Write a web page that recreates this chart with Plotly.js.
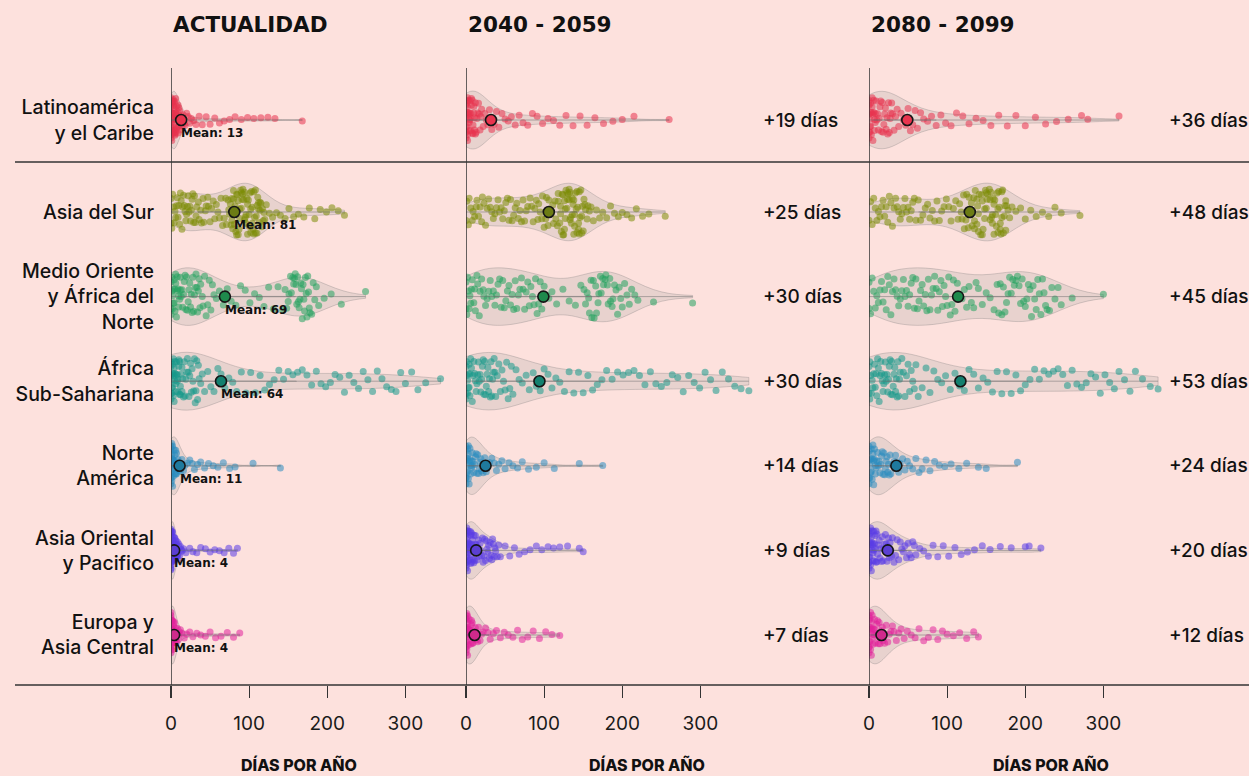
<!DOCTYPE html>
<html><head><meta charset="utf-8">
<script src="https://cdn.plot.ly/plotly-3.0.1.min.js"></script>
<style>html,body{margin:0;padding:0;background:#fde1dd;} #chart{width:1249px;height:776px;}</style>
</head><body><div id="chart"></div>
<script>
// ---------- labels ----------
const regions = ["Latinoamérica<br>y el Caribe","Asia del Sur","Medio Oriente<br>y África del<br>Norte","África<br>Sub-Sahariana","Norte<br>América","Asia Oriental<br>y Pacifico","Europa y<br>Asia Central"];
const periods = ["ACTUALIDAD","2040 - 2059","2080 - 2099"];
const xTicks = [0,100,200,300];
const xTitle = "DÍAS POR AÑO";
// ---------- means and changes (days per year) ----------
const meanNow  = [13,81,69,64,11,4,4];
const mean2050 = [32,106,99,94,25,13,11];
const mean2090 = [49,129,114,117,35,24,16];
const delta2050 = [19,25,30,30,14,9,7];
const delta2090 = [36,48,45,53,24,20,12];
// ---------- country values, ACTUALIDAD ----------
const latinoActual = [0,0,0,0,0,0,0,0,0,0,0,0,0,0,0,1,1,1,1,1,1,1,2,2,2,2,2,2,3,3,3,3,3,4,4,4,4,4,5,5,5,5,6,6,6,6,7,7,7,8,8,8,9,9,10,10,11,11,12,12,13,14,15,17,18,20,22,24,26,29,32,36,40,45,50,56,62,68,75,82,90,98,106,115,124,133,168];
const asiaSurActual = [0,0,1,2,3,4,5,6,7,8,9,10,11,12,13,14,15,16,17,18,19,20,21,22,23,24,25,26,27,28,29,30,31,32,33,35,36,38,39,41,42,44,45,47,48,50,52,54,56,58,60,62,64,66,68,70,71,73,74,75,76,77,78,78,79,80,80,81,82,82,83,84,84,85,86,86,87,88,88,89,90,90,91,92,92,93,94,94,95,96,96,97,98,98,99,100,100,101,102,102,103,104,104,105,106,106,107,108,108,109,110,110,111,112,112,113,114,114,115,116,117,118,119,120,122,126,130,135,140,146,151,157,163,170,177,184,191,199,206,214,222];
const menaActual = [0,0,0,1,1,2,2,3,3,4,4,5,5,6,6,7,8,8,9,10,10,11,12,12,13,14,15,16,17,18,19,20,21,22,23,24,25,26,27,28,29,30,31,32,33,34,35,36,37,38,40,41,43,45,47,49,51,53,55,58,62,67,72,77,83,89,95,101,107,113,119,125,131,137,143,146,148,150,151,153,154,156,157,158,159,160,161,162,163,164,165,166,167,168,169,170,171,172,173,174,175,176,177,178,180,182,184,186,189,196,205,218,249];
const ssaActual = [0,0,0,0,0,1,1,1,2,2,2,3,3,3,4,4,4,5,5,5,6,6,7,7,8,8,9,9,10,10,11,11,12,12,13,14,14,15,16,17,18,19,20,21,22,23,24,25,26,27,28,29,30,31,32,33,34,35,36,38,40,43,47,51,55,60,64,69,74,79,84,90,96,102,108,114,120,126,132,138,144,150,156,162,168,174,180,186,192,198,204,210,216,222,228,234,240,246,252,258,264,270,276,282,288,294,300,308,316,326,345];
const naActual = [0,0,0,0,0,0,0,0,0,0,1,1,1,1,1,2,2,2,2,3,3,3,3,4,4,4,5,5,5,6,6,7,7,8,8,9,10,11,12,14,16,18,21,24,27,30,34,38,43,48,54,60,67,75,82,105,140];
const eapActual = [0,0,0,0,0,0,0,0,0,0,0,0,0,0,0,0,0,0,1,1,1,1,1,1,1,1,2,2,2,2,2,2,3,3,3,3,3,4,4,4,4,5,5,5,5,6,6,6,7,7,7,8,8,9,9,10,11,12,13,14,16,19,24,28,33,38,44,50,56,62,68,74,80,85];
const ecaActual = [0,0,0,0,0,0,0,0,0,0,0,0,0,0,1,1,1,1,1,1,2,2,2,2,2,3,3,3,3,4,4,4,5,5,5,6,6,7,7,8,9,10,11,12,14,17,20,24,28,33,38,44,50,57,64,72,80,88];
// ---------- 2040-2059 ----------
const latino2050 = [0,0,0,0,0,0,0,0,1,1,1,1,2,2,2,2,3,3,3,4,4,4,5,5,5,6,6,6,7,7,8,8,9,9,10,10,11,11,12,12,13,14,15,16,17,18,19,20,22,24,26,28,30,33,36,39,42,46,50,54,58,63,68,73,79,85,91,98,105,112,120,128,137,146,155,165,176,188,200,215,260];
const asiaSur2050 = [0,1,3,4,6,8,9,11,13,14,16,18,20,21,23,25,27,29,31,33,35,37,39,41,43,45,47,49,51,53,55,57,59,61,63,65,67,69,71,73,75,77,79,82,84,86,88,90,92,93,95,97,98,100,102,103,105,106,108,109,111,112,114,115,117,118,120,121,122,123,124,125,126,127,128,129,130,131,132,133,134,135,136,137,138,139,140,141,142,143,144,145,146,147,148,149,150,152,153,155,156,158,160,118,121,124,127,130,133,136,139,142,145,148,151,126,132,138,144,163,167,171,175,180,185,190,195,200,206,212,218,226,234,255];
const mena2050 = [0,0,1,2,3,4,5,6,7,8,10,11,12,14,15,17,18,20,22,23,25,27,29,31,33,35,37,39,41,43,45,47,49,51,53,55,57,59,61,63,65,67,69,71,73,75,77,79,81,83,85,87,89,91,93,95,97,100,103,106,110,116,124,132,140,147,151,153,155,157,158,160,161,163,164,166,167,169,170,172,173,175,176,178,179,181,182,184,185,187,188,190,192,194,196,198,200,203,206,209,212,216,220,240,290];
const ssa2050 = [0,0,0,1,1,2,2,3,3,4,4,5,5,6,7,8,9,10,11,12,13,14,15,16,17,18,19,20,21,22,23,24,25,26,27,28,29,30,31,32,33,34,35,36,37,38,40,42,44,46,48,50,52,54,56,58,60,64,68,72,77,81,86,90,95,100,105,110,115,120,126,132,138,144,150,156,162,168,174,180,187,194,201,208,215,222,229,236,243,250,257,264,271,278,285,292,299,306,313,320,328,336,344,352,362];
const na2050 = [0,0,0,0,0,0,1,1,1,2,2,2,3,3,3,4,4,5,5,6,6,7,7,8,8,9,10,11,12,13,14,15,16,17,18,19,20,21,22,24,26,28,30,33,36,39,42,46,50,55,60,66,72,80,90,100,113,145,175];
const eap2050 = [0,0,0,0,0,0,0,0,0,0,1,1,1,1,2,2,2,2,3,3,3,3,4,4,4,5,5,5,6,6,6,7,7,7,8,8,9,9,10,10,11,11,12,12,13,14,15,16,17,18,19,20,21,22,23,24,25,26,27,28,29,30,31,32,33,34,35,36,37,38,40,42,44,50,56,62,68,75,82,90,97,105,112,120,130,145,150];
const eca2050 = [0,0,0,0,0,0,0,0,0,0,1,1,1,1,2,2,2,2,3,3,3,4,4,4,5,5,6,6,7,7,8,8,9,10,11,12,13,14,15,16,18,20,22,25,28,31,35,39,44,49,54,60,66,72,79,86,94,102,110,120];
// ---------- 2080-2099 ----------
const latino2090 = [0,0,0,0,0,1,1,1,2,2,2,3,3,4,4,5,5,6,6,7,7,8,8,9,10,11,12,13,14,15,16,17,18,19,20,21,22,23,24,25,26,27,28,29,30,32,34,36,38,41,44,47,50,53,56,59,62,66,70,75,80,86,92,98,105,112,120,128,137,146,156,166,177,188,200,213,226,240,255,272,280,320];
const asiaSur2090 = [0,2,4,6,8,10,12,14,16,18,20,22,24,26,28,30,32,34,36,38,40,42,44,46,48,50,52,54,56,58,60,63,66,69,72,75,78,81,84,87,90,93,96,99,102,105,108,111,114,116,118,119,121,122,124,125,127,128,130,131,132,134,135,136,138,139,140,141,143,144,145,146,148,149,150,151,152,154,155,156,157,158,159,160,161,162,163,164,165,166,167,168,169,170,171,172,173,174,175,176,178,180,130,135,140,145,150,155,160,165,170,175,138,148,158,168,183,188,194,200,207,214,222,230,238,246,270];
const mena2090 = [0,0,2,4,6,8,10,12,14,16,18,20,22,24,26,28,30,32,34,36,38,40,42,44,46,48,50,52,54,56,58,60,62,64,66,68,70,72,74,76,78,80,82,84,86,88,90,92,94,96,98,100,102,104,106,108,110,113,116,119,122,125,128,131,134,137,140,145,150,155,160,164,166,168,170,172,174,176,178,180,182,184,186,188,190,192,194,196,198,200,202,204,206,208,210,212,214,216,218,220,222,224,226,228,231,234,238,242,246,260,300];
const ssa2090 = [0,0,1,1,2,3,4,5,6,7,8,9,10,11,12,13,14,15,16,17,18,19,20,21,22,23,24,25,26,27,28,29,30,31,32,33,34,35,36,37,38,39,40,42,44,46,48,50,52,54,56,58,60,63,68,73,78,83,88,93,98,104,110,116,122,128,134,140,146,152,158,164,170,176,182,188,194,200,206,212,218,224,230,236,242,248,254,260,266,272,278,284,290,296,302,308,314,320,327,334,341,350,360,370];
const na2090 = [0,0,0,0,1,1,1,2,2,3,3,4,4,5,5,6,6,7,7,8,8,9,10,11,12,13,14,15,16,17,18,19,20,21,22,23,24,25,26,27,28,30,32,34,36,38,40,43,46,49,52,56,60,64,68,73,78,84,90,97,105,115,125,140,150,190];
const eap2090 = [0,0,0,0,0,0,0,0,1,1,1,2,2,2,3,3,3,4,4,4,5,5,5,6,6,7,7,8,8,9,9,10,10,11,12,13,14,15,16,17,18,19,20,21,22,23,24,25,26,27,28,29,30,32,34,36,38,40,42,44,46,48,50,52,54,56,58,60,65,70,76,82,88,95,102,110,118,126,135,145,155,168,182,200,205,220];
const eca2090 = [0,0,0,0,0,0,0,0,1,1,1,2,2,2,3,3,3,4,4,5,5,6,6,7,7,8,8,9,10,11,12,13,14,15,16,17,18,19,20,22,24,26,28,30,32,35,38,41,45,49,54,59,64,70,76,82,88,94,100,108,116,125,134,140];

// ---------- assembly ----------
const panels = [
  [latinoActual, asiaSurActual, menaActual, ssaActual, naActual, eapActual, ecaActual],
  [latino2050, asiaSur2050, mena2050, ssa2050, na2050, eap2050, eca2050],
  [latino2090, asiaSur2090, mena2090, ssa2090, na2090, eap2090, eca2090]
];
const means = [meanNow, mean2050, mean2090];
const deltas = [null, delta2050, delta2090];
const pointColors = ['#e8334f','#7c8d06','#22a35e','#15998a','#2a8dc0','#5a3de6','#e2229a'];
const meanColors  = ['#e8344e','#6c7c14','#1e8a4c','#13806f','#1f7a9e','#5b3fd2','#d02a8c'];
const BG = '#fde1dd';
const FONT = 'Inter, "DejaVu Sans", sans-serif';
const TITLE_FONT = '"DejaVu Sans", Inter, sans-serif';
const W = 1249, H = 776;
const xDomains = [[171/W, 464/W],[466/W, 759/W],[869/W, 1162/W]];
const axNames = ['x','x2','x3'];
const yFor = r => r === 0 ? 'y2' : 'y';

const traces = [];
panels.forEach((set, p) => {
  set.forEach((vals, r) => {
    traces.push({
      type:'violin', orientation:'h', x: vals, name: regions[r],
      xaxis: axNames[p], yaxis: yFor(r), width: 0.68, spanmode:'hard',
      fillcolor:'rgba(150,150,150,0.2)', line:{color:'rgba(120,120,120,0.3)', width:1},
      points:'all', jitter:0.8, pointpos:0,
      marker:{color: pointColors[r], size:7, opacity:0.55, line:{width:0}},
      box:{visible:false}, meanline:{visible:false}, showlegend:false, hoverinfo:'x'
    });
    traces.push({
      type:'box', orientation:'h', x: vals, name: regions[r],
      xaxis: axNames[p], yaxis: yFor(r), boxpoints:false, width:0.004, whiskerwidth:0,
      line:{color:'rgba(110,110,110,0.5)', width:1}, fillcolor:'rgba(0,0,0,0)',
      showlegend:false, hoverinfo:'skip'
    });
  });
  traces.push({
    type:'scatter', mode:'markers', x: means[p].slice(1), y: regions.slice(1),
    xaxis: axNames[p], yaxis:'y', showlegend:false,
    marker:{size:11, color: meanColors.slice(1), line:{color:'#151515', width:1.6}}
  });
  traces.push({
    type:'scatter', mode:'markers', x: means[p].slice(0,1), y: regions.slice(0,1),
    xaxis: axNames[p], yaxis:'y2', showlegend:false,
    marker:{size:11, color: meanColors.slice(0,1), line:{color:'#151515', width:1.6}}
  });
});

const xAxisBase = {
  range:[0,375], anchor:'y', showgrid:false, zeroline:false, showline:false,
  ticks:'outside', ticklen:12, tickwidth:1.2, tickcolor:'#333',
  tickvals: xTicks, ticktext: xTicks.map(String),
  tickfont:{family:FONT, size:19, color:'#1a1a1a'}, ticklabelstandoff:9, fixedrange:true
};
const yBottom = 1 - 685/H, ySplit = 1 - 162/H, yTop = 1 - 68/H;

const annotations = [];
const titleX = [171, 466, 869];
const axisTitleX = [299, 647, 1051];
periods.forEach((t, p) => {
  annotations.push({xref:'paper', yref:'paper', x: titleX[p]/W, y: 1 - 25/H, xanchor:'left', yanchor:'middle',
    text: t, showarrow:false, font:{family:TITLE_FONT, size:21.5, weight:'bold', color:'#111'}});
  annotations.push({xref:'paper', yref:'paper', x: axisTitleX[p]/W, y: 1 - 765/H, xanchor:'center', yanchor:'middle',
    text: xTitle, showarrow:false, font:{family:FONT, size:16, weight:800, color:'#111'}});
});
regions.forEach((name, r) => {
  annotations.push({xref:'x', yref: yFor(r), x: meanNow[r], y: name, xanchor:'left', yanchor:'middle',
    xshift:-2, yshift:-13, text:'Mean: ' + meanNow[r], showarrow:false,
    font:{family:'"DejaVu Sans", sans-serif', size:12, weight:'bold', color:'#111'}});
});
[[1, 761], [2, 1167]].forEach(([p, px]) => {
  regions.forEach((name, r) => {
    annotations.push({xref:'paper', yref: yFor(r), x: px/W, y: name, xanchor:'left', yanchor:'middle',
      text: '+' + deltas[p][r] + ' días', showarrow:false, font:{family:FONT, size:19, weight:500, color:'#111'}});
  });
});

const shapes = [
  {type:'line', xref:'paper', yref:'paper', x0:15/W, x1:1, y0:ySplit, y1:ySplit, line:{color:'#333', width:1.3}},
  {type:'line', xref:'paper', yref:'paper', x0:15/W, x1:1, y0:yBottom, y1:yBottom, line:{color:'#333', width:1.3}}
];
axNames.forEach(a => shapes.push({type:'line', xref:a, yref:'paper', x0:0, x1:0, y0:yBottom, y1:yTop, layer:'above', line:{color:'#333', width:1.5}}));

const yTickFont = {family:FONT, size:19.5, weight:500, color:'#111'};
const layout = {
  width:W, height:H, margin:{l:0, r:0, t:0, b:0},
  paper_bgcolor:BG, plot_bgcolor:'rgba(0,0,0,0)',
  violinmode:'overlay', boxmode:'overlay', showlegend:false, hovermode:false,
  xaxis: Object.assign({}, xAxisBase, {domain: xDomains[0]}),
  xaxis2: Object.assign({}, xAxisBase, {domain: xDomains[1]}),
  xaxis3: Object.assign({}, xAxisBase, {domain: xDomains[2]}),
  yaxis: {domain:[yBottom, ySplit], anchor:'x', type:'category', categoryorder:'array', categoryarray: regions.slice(1),
    range:[5.591, -0.591], showgrid:false, zeroline:false, showline:false, ticks:'', ticklabelstandoff:16,
    tickfont:yTickFont, fixedrange:true},
  yaxis2: {domain:[ySplit, yTop], anchor:'x', type:'category', categoryorder:'array', categoryarray: regions.slice(0,1),
    range:[0.496, -0.615], showgrid:false, zeroline:false, showline:false, ticks:'', ticklabelstandoff:16,
    tickfont:yTickFont, fixedrange:true},
  annotations, shapes
};
Plotly.newPlot('chart', traces, layout, {displayModeBar:false, staticPlot:true});
</script>
</body></html>
